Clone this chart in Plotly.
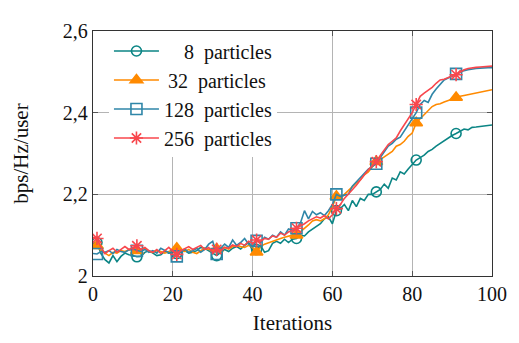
import plotly.graph_objects as go

iterations = list(range(0, 101))

p8 = [2.080, 2.082, 2.055, 2.040, 2.032, 2.050, 2.035, 2.048, 2.056, 2.052,
      2.050, 2.047, 2.048, 2.058, 2.062, 2.055, 2.050, 2.052, 2.060, 2.056,
      2.058, 2.055, 2.058, 2.062, 2.056, 2.058, 2.062, 2.070, 2.068, 2.062,
      2.055, 2.050, 2.058, 2.065, 2.060, 2.068, 2.072, 2.066, 2.075, 2.082,
      2.062, 2.065, 2.075, 2.058, 2.062, 2.080, 2.085, 2.080, 2.090, 2.082,
      2.090, 2.092, 2.100, 2.098, 2.108, 2.115, 2.120, 2.128, 2.140, 2.145,
      2.128, 2.160, 2.165, 2.175, 2.160, 2.185, 2.170, 2.190, 2.185, 2.200,
      2.200, 2.206, 2.212, 2.225, 2.215, 2.240, 2.235, 2.255, 2.250, 2.262,
      2.272, 2.284, 2.290, 2.296, 2.305, 2.310, 2.318, 2.325, 2.330, 2.338,
      2.344, 2.349, 2.354, 2.360, 2.358, 2.364, 2.365, 2.366, 2.368, 2.369,
      2.370]

p32 = [2.075, 2.074, 2.062, 2.055, 2.050, 2.058, 2.056, 2.062, 2.060, 2.064,
       2.066, 2.062, 2.065, 2.068, 2.060, 2.058, 2.062, 2.060, 2.056, 2.060,
       2.064, 2.068, 2.062, 2.060, 2.065, 2.058, 2.055, 2.062, 2.068, 2.065,
       2.066, 2.066, 2.068, 2.070, 2.066, 2.072, 2.075, 2.072, 2.070, 2.075,
       2.070, 2.058, 2.072, 2.078, 2.082, 2.085, 2.090, 2.092, 2.095, 2.098,
       2.100, 2.100, 2.108, 2.118, 2.125, 2.135, 2.138, 2.135, 2.140, 2.150,
       2.170, 2.195, 2.190, 2.200, 2.210, 2.218, 2.228, 2.235, 2.248, 2.255,
       2.268, 2.280, 2.285, 2.292, 2.300, 2.305, 2.318, 2.322, 2.330, 2.342,
       2.350, 2.375, 2.385, 2.395, 2.405, 2.415, 2.420, 2.422, 2.426, 2.430,
       2.432, 2.437, 2.440, 2.442, 2.444, 2.446, 2.448, 2.450, 2.452, 2.454,
       2.456]

p128 = [2.055, 2.054, 2.060, 2.058, 2.062, 2.055, 2.065, 2.060, 2.058, 2.064,
        2.066, 2.062, 2.060, 2.065, 2.058, 2.062, 2.056, 2.068, 2.062, 2.058,
        2.052, 2.048, 2.060, 2.066, 2.058, 2.062, 2.068, 2.058, 2.065, 2.078,
        2.085, 2.054, 2.068, 2.078, 2.070, 2.088, 2.075, 2.082, 2.092, 2.078,
        2.072, 2.086, 2.082, 2.095, 2.090, 2.100, 2.095, 2.108, 2.100, 2.115,
        2.112, 2.117, 2.130, 2.160, 2.140, 2.158, 2.150, 2.155, 2.148, 2.160,
        2.175, 2.200, 2.195, 2.198, 2.200, 2.220, 2.230, 2.240, 2.250, 2.262,
        2.268, 2.275, 2.290, 2.305, 2.318, 2.325, 2.335, 2.340, 2.355, 2.370,
        2.385, 2.400, 2.420, 2.430, 2.425, 2.445, 2.458, 2.470, 2.480, 2.485,
        2.490, 2.495, 2.500, 2.503, 2.505, 2.507, 2.508, 2.509, 2.510, 2.510,
        2.510]

p256 = [2.095, 2.092, 2.070, 2.055, 2.062, 2.068, 2.058, 2.066, 2.072, 2.065,
        2.070, 2.074, 2.065, 2.070, 2.062, 2.058, 2.065, 2.055, 2.062, 2.070,
        2.060, 2.053, 2.062, 2.068, 2.072, 2.065, 2.070, 2.075, 2.065, 2.070,
        2.058, 2.065, 2.062, 2.070, 2.068, 2.076, 2.072, 2.080, 2.075, 2.085,
        2.080, 2.088, 2.085, 2.092, 2.090, 2.098, 2.095, 2.105, 2.100, 2.108,
        2.112, 2.117, 2.122, 2.128, 2.135, 2.140, 2.145, 2.142, 2.148, 2.140,
        2.150, 2.165, 2.175, 2.190, 2.200, 2.212, 2.222, 2.235, 2.248, 2.260,
        2.270, 2.280, 2.295, 2.310, 2.322, 2.330, 2.338, 2.355, 2.370, 2.385,
        2.400, 2.420, 2.440, 2.448, 2.455, 2.462, 2.472, 2.480, 2.482, 2.487,
        2.490, 2.493, 2.500, 2.505, 2.508, 2.510, 2.511, 2.512, 2.513, 2.513,
        2.514]

series_names = ["\u2002\u20028\u2002particles", "\u200932\u2002particles",
                "128\u2002particles", "256\u2002particles"]
series_values = [p8, p32, p128, p256]
colors = ["#0b8585", "#ff8a00", "#2f86a8", "#f8474d"]
symbols = ["circle-open", "triangle-up", "square-open", "asterisk-open"]
msizes = [10, 11, 11, 11]
marker_idx = list(range(1, 101, 10))

y_tickvals = [2.0, 2.2, 2.4, 2.6]
y_ticktext = ["2", "2,2", "2,4", "2,6"]
x_tickvals = [0, 20, 40, 60, 80, 100]

FONT = "Liberation Serif, Times New Roman, serif"

fig = go.Figure()
for name, vals, col, sym, ms in zip(series_names, series_values, colors, symbols, msizes):
    fig.add_trace(go.Scatter(x=iterations, y=vals, mode="lines",
                             line=dict(color=col, width=1.6),
                             showlegend=False, hoverinfo="skip"))
    fig.add_trace(go.Scatter(x=[iterations[i] for i in marker_idx],
                             y=[vals[i] for i in marker_idx], mode="markers",
                             marker=dict(symbol=sym, size=ms, color=col,
                                         line=dict(color=col, width=1.6)),
                             showlegend=False))
    fig.add_trace(go.Scatter(x=[None], y=[None], mode="lines+markers", name=name,
                             line=dict(color=col, width=1.6),
                             marker=dict(symbol=sym, size=ms, color=col,
                                         line=dict(color=col, width=1.6))))

axis_common = dict(showline=True, linecolor="#333333", linewidth=1.3, mirror="ticks",
                   ticks="inside", ticklen=5, tickcolor="#555555", tickwidth=1,
                   showgrid=True, gridcolor="#b4b4b4", gridwidth=1, zeroline=False,
                   tickfont=dict(family=FONT, size=20, color="#111111"))

# page body has an 8px default margin, so the figure is sized/offset to compensate
fig.update_layout(
    width=511, height=335,
    margin=dict(l=83, r=19, t=15, b=63),
    paper_bgcolor="white", plot_bgcolor="white",
    font=dict(family=FONT, size=20, color="#111111"),
    xaxis=dict(range=[0, 100], tickvals=x_tickvals,
               title=dict(text="Iterations", font=dict(family=FONT, size=21), standoff=11),
               **axis_common),
    yaxis=dict(range=[2.0, 2.6], tickvals=y_tickvals, ticktext=y_ticktext,
               title=dict(text="bps/Hz/user", font=dict(family=FONT, size=21), standoff=28),
               **axis_common),
    legend=dict(x=0.04, y=0.998, xanchor="left", yanchor="top",
                bgcolor="white", borderwidth=0,
                font=dict(family=FONT, size=20, color="#111111"),
                itemwidth=45, tracegroupgap=0),
    showlegend=True,
)

fig.write_html("out.html")
